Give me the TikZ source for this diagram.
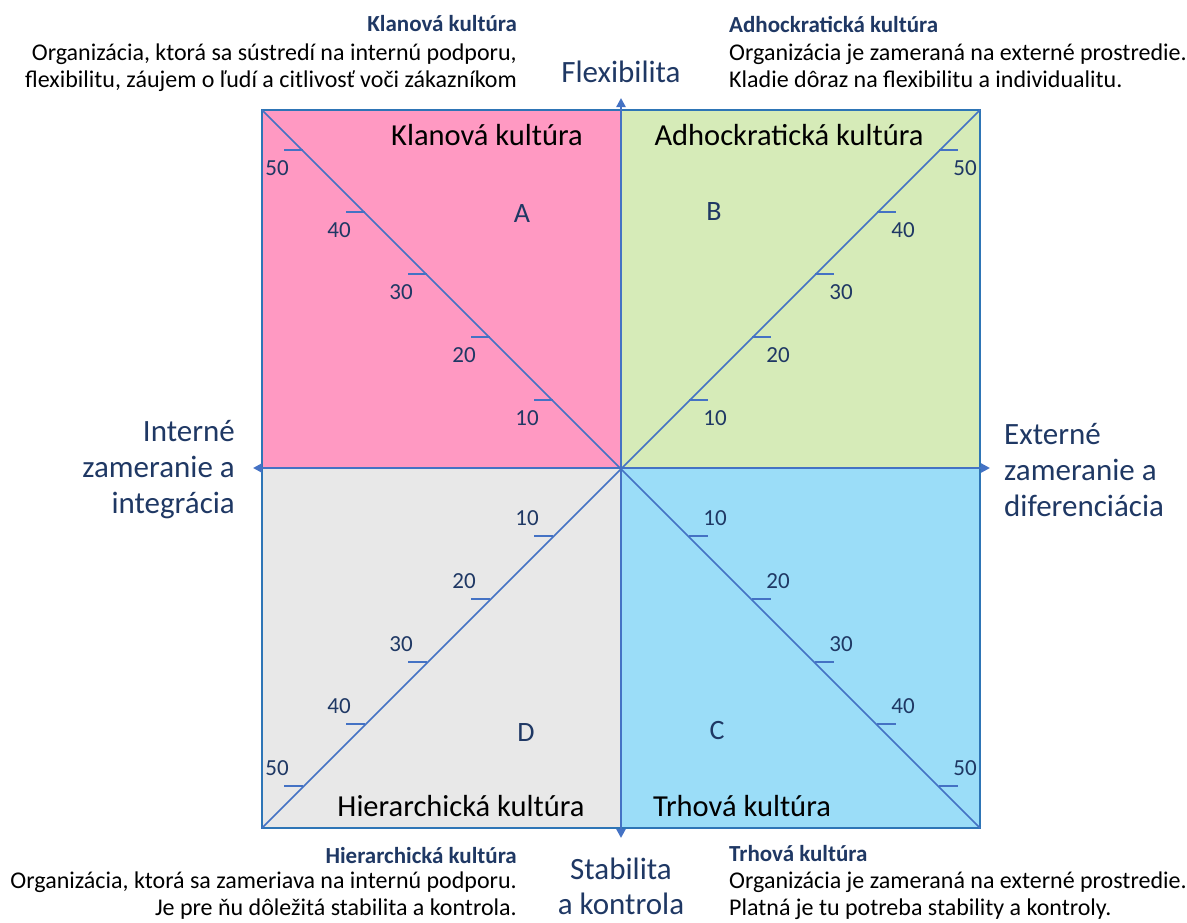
\documentclass[tikz,border=0pt]{standalone}
\usepackage{fontspec}
\setmainfont{Carlito}
\usetikzlibrary{arrows.meta}
\tikzstyle{chart} = [x=1pt, y=-1pt]
\definecolor{clanPink}{HTML}{FF99C2}
\definecolor{adhocGreen}{HTML}{D6EBB8}
\definecolor{marketBlue}{HTML}{9BDDF8}
\definecolor{hierGray}{HTML}{E8E8E8}
\definecolor{axisBlue}{HTML}{4472C4}
\definecolor{borderBlue}{HTML}{2E75B6}
\definecolor{navyText}{HTML}{1F3864}
\tikzstyle{axisLine} = [color=axisBlue, line width=2.4pt, {Triangle[length=9pt,width=9pt]}-{Triangle[length=9pt,width=9pt]}]
\tikzstyle{diagLine} = [color=axisBlue, line width=1.5pt]
\tikzstyle{tickLine} = [color=axisBlue, line width=1.3pt]
\tikzstyle{borderLine} = [color=borderBlue, line width=1.6pt]
\tikzstyle{tickText} = [color=navyText, inner sep=0pt, font=\fontsize{23}{23}\selectfont]
\tikzstyle{axisText} = [color=navyText, inner sep=0pt, font=\fontsize{31}{36}\selectfont]
\tikzstyle{cultureText} = [color=black, inner sep=0pt, font=\fontsize{30.5}{30}\selectfont]
\tikzstyle{letterText} = [color=navyText, inner sep=0pt, font=\fontsize{28}{28}\selectfont]
\tikzstyle{descHead} = [color=navyText, inner sep=0pt, font=\fontsize{23}{23}\selectfont\bfseries]
\tikzstyle{descText} = [color=black, inner sep=0pt, font=\fontsize{24}{27}\selectfont]
% #1 horizontal sign, #2 vertical sign, #3 name prefix
\newcommand{\scaleTicks}[3]{
  \foreach \val/\dist in {10/68,20/131,30/194,40/256,50/318} {
    \draw [tickLine] (621 + #1*\dist, 468 + #2*\dist) -- +(#1*19, 0)
      node [tickText, xshift={#1*7}, yshift={#2*18}] (#3\val) {\val};
  }
}

\begin{document}
\begin{tikzpicture}[chart]
    \useasboundingbox (0,0) rectangle (1187,922);
    % quadrants
    \fill [clanPink] (262,110) rectangle (621,468);
    \fill [adhocGreen] (621,110) rectangle (980,468);
    \fill [marketBlue] (621,468) rectangle (980,828);
    \fill [hierGray] (262,468) rectangle (621,828);
    \coordinate (cornerNW) at (262,110);
    \coordinate (cornerNE) at (980,110);
    \coordinate (cornerSE) at (980,828);
    \coordinate (cornerSW) at (262,828);
    \coordinate (center) at (621,468);
    \draw [borderLine] (cornerNW) rectangle (cornerSE);
    \draw [diagLine] (cornerNW) -- (cornerSE);
    \draw [diagLine] (cornerSW) -- (cornerNE);
    % scales
    \scaleTicks{-1}{-1}{clan}
    \scaleTicks{1}{-1}{adhoc}
    \scaleTicks{1}{1}{market}
    \scaleTicks{-1}{1}{hier}
    % axes
    \coordinate (axisW) at (253,468);
    \coordinate (axisE) at (990,468);
    \coordinate (axisN) at (621,98);
    \coordinate (axisS) at (621,838);
    \draw [axisLine] (axisW) -- (axisE);
    \draw [axisLine] (axisN) -- (axisS);
    \node [axisText] (flexLabel) at (621,72) {Flexibilita};
    \node [axisText, align=center, font=\fontsize{31}{35}\selectfont] (stabLabel) at (621,886) {Stabilita\\a kontrola};
    \node [axisText, align=right, anchor=east] (intLabel) at (235,470) {Interné\\zameranie a\\integrácia};
    \node [axisText, align=left, anchor=west] (extLabel) at (1004,470) {Externé\\zameranie a\\diferenciácia};
    % quadrant titles
    \node [cultureText] (clanTitle) at (487,135) {Klanová kultúra};
    \node [cultureText] (adhocTitle) at (789,135) {Adhockratická kultúra};
    \node [cultureText] (hierTitle) at (461,806) {Hierarchická kultúra};
    \node [cultureText] (marketTitle) at (742,806) {Trhová kultúra};
    \node [letterText] (letterA) at (522,214) {A};
    \node [letterText] (letterB) at (714,212) {B};
    \node [letterText] (letterC) at (717,730) {C};
    \node [letterText] (letterD) at (526,733) {D};
    % descriptions
    \node [descHead, anchor=east] (clanHead) at (517,24) {Klanová kultúra};
    \node [descText, align=right, anchor=north east] (clanDesc) at (517,44)
      {Organizácia, ktorá sa sústredí na internú podporu,\\flexibilitu, záujem o ľudí a citlivosť voči zákazníkom};
    \node [descHead, anchor=west] (adhocHead) at (729,24) {Adhockratická kultúra};
    \node [descText, align=left, anchor=north west] (adhocDesc) at (729,44)
      {Organizácia je zameraná na externé prostredie.\\Kladie dôraz na flexibilitu a individualitu.};
    \node [descHead, anchor=east] (hierHead) at (517,856) {Hierarchická kultúra};
    \node [descText, align=right, anchor=north east] (hierDesc) at (517,872)
      {Organizácia, ktorá sa zameriava na internú podporu.\\Je pre ňu dôležitá stabilita a kontrola.};
    \node [descHead, anchor=west] (marketHead) at (729,854) {Trhová kultúra};
    \node [descText, align=left, anchor=north west] (marketDesc) at (729,872)
      {Organizácia je zameraná na externé prostredie.\\Platná je tu potreba stability a kontroly.};
\end{tikzpicture}
\end{document}
